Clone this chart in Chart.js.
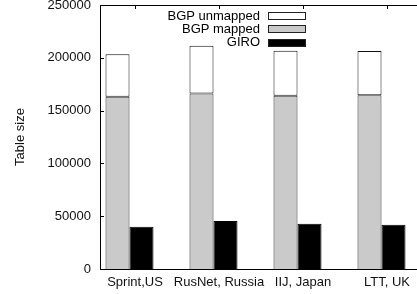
<!DOCTYPE html>
<html>
<head>
<meta charset="utf-8">
<script src="https://cdn.jsdelivr.net/npm/chart.js@4"></script>
<style>
  html, body { margin: 0; padding: 0; background: #fff; overflow: hidden; }
  #wrap { width: 417px; height: 294px; }
</style>
</head>
<body>
<div id="wrap"><canvas id="c" width="417" height="294"></canvas></div>
<script>
/* ---- data ---- */
const categories = ['Sprint,US', 'RusNet, Russia', 'IIJ, Japan', 'LTT, UK'];
const bgpMapped = [163200, 166300, 164100, 164500];
const bgpUnmapped = [40100, 45200, 42600, 42000];
const giro = [40000, 45400, 42900, 42000];
const yTicks = [0, 50000, 100000, 150000, 200000, 250000];

Chart.defaults.font.family = '"Liberation Sans", Arial, sans-serif';
Chart.defaults.font.size = 13;
Chart.defaults.color = '#111';

const toPoints = arr => arr.map((v, i) => ({ x: i, y: v }));

const legendItems = [
  { label: 'BGP unmapped', fill: '#ffffff' },
  { label: 'BGP mapped', fill: '#cacaca' },
  { label: 'GIRO', fill: '#000000' },
];

/* gnuplot-like inward ticks + legend */
const gnuplotBits = {
  id: 'gnuplotBits',
  afterDraw(chart) {
    const c = chart.ctx;
    const a = chart.chartArea;
    c.save();
    c.strokeStyle = '#000';
    c.lineWidth = 1;
    c.beginPath();
    chart.scales.y.ticks.forEach(t => {
      const py = Math.round(chart.scales.y.getPixelForValue(t.value)) + 0.5;
      c.moveTo(a.left, py); c.lineTo(a.left + 4, py);
    });
    chart.scales.x2.ticks.forEach(t => {
      const px = Math.round(chart.scales.x2.getPixelForValue(t.value)) + 0.5;
      c.moveTo(px, a.top); c.lineTo(px, a.top + 4);
    });
    c.stroke();

    // legend
    c.font = '13px "Liberation Sans", Arial, sans-serif';
    c.textAlign = 'right';
    c.textBaseline = 'middle';
    legendItems.forEach((it, i) => {
      const cy = 15.5 + i * 13.3;
      c.fillStyle = '#000';
      c.fillText(it.label, 260, cy + 0.5);
      c.fillStyle = it.fill;
      c.fillRect(268.5, Math.round(cy - 3.5) + 0.5, 37, 7);
      c.strokeStyle = '#222';
      c.strokeRect(268.5, Math.round(cy - 3.5) + 0.5, 37, 7);
    });
    c.restore();
  }
};

const barPx = 84;        // spacing of groups in pixels (for axis range)
const left = 100, right = 417;
const groupCenter0 = 129.5, tick0 = 135;

new Chart(document.getElementById('c'), {
  type: 'bar',
  data: {
    datasets: [{
      label: 'BGP mapped',
      data: toPoints(bgpMapped),
      stack: 'bgp',
      backgroundColor: '#cacaca',
      borderColor: '#333',
      borderWidth: 1,
      borderSkipped: 'bottom',
    }, {
      label: 'BGP unmapped',
      data: toPoints(bgpUnmapped),
      stack: 'bgp',
      backgroundColor: '#ffffff',
      borderColor: '#111',
      borderWidth: 1,
      borderSkipped: false,
    }, {
      label: 'GIRO',
      data: toPoints(giro),
      stack: 'giro',
      backgroundColor: '#000',
      borderColor: '#000',
      borderWidth: 1,
    }]
  },
  options: {
    responsive: false,
    animation: false,
    layout: { padding: 0 },
    categoryPercentage: 48 / 84,
    barPercentage: 1,
    plugins: { legend: { display: false }, tooltip: { enabled: false } },
    scales: {
      x: {
        type: 'linear',
        position: 'bottom',
        offset: false,
        min: (left - groupCenter0) / barPx,
        max: (right - groupCenter0) / barPx,
        afterBuildTicks: s => { s.ticks = categories.map((_, i) => ({ value: i })); },
        afterFit: s => { s.height = 25; s.paddingLeft = 0; s.paddingRight = 0; },
        grid: { display: false, drawTicks: false, offset: false },
        border: { display: true, color: '#000', width: 1 },
        ticks: {
          padding: 6,
          labelOffset: tick0 - groupCenter0,
          maxRotation: 0,
          autoSkip: false,
          color: '#111',
          callback: v => categories[v],
        },
      },
      x2: {
        type: 'linear',
        position: 'top',
        offset: false,
        min: (left - tick0) / barPx,
        max: (right - tick0) / barPx,
        afterBuildTicks: s => { s.ticks = categories.map((_, i) => ({ value: i })); },
        afterFit: s => { s.height = 5; s.paddingLeft = 0; s.paddingRight = 0; },
        grid: { display: false, drawTicks: false, offset: false },
        border: { display: true, color: '#000', width: 1 },
        ticks: { display: false },
      },
      y: {
        stacked: true,
        min: 0,
        max: 250000,
        afterBuildTicks: s => { s.ticks = yTicks.map(v => ({ value: v })); },
        afterFit: s => { s.width = 100; s.paddingTop = 0; s.paddingBottom = 0; },
        grid: { display: false, drawTicks: false },
        border: { display: true, color: '#000', width: 1 },
        ticks: { padding: 9, color: '#111', callback: v => String(v) },
        title: { display: true, text: 'Table size', color: '#111', padding: { top: 13, bottom: 0 }, font: { size: 13 } },
      }
    }
  },
  plugins: [gnuplotBits]
});
</script>
</body>
</html>
